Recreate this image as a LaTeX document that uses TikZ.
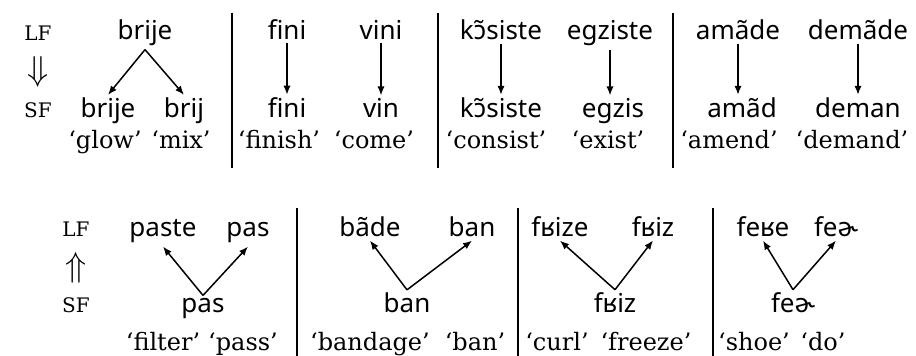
\documentclass[tikz,border=0pt]{standalone}
\usepackage{fontspec}
\setmainfont{DejaVu Serif}
\newfontfamily\ipafont{Noto Sans}
\usetikzlibrary{arrows.meta}

\begin{document}
\begin{tikzpicture}[x=0.5pt,y=-0.5pt,
    form/.style={anchor=base,inner sep=1.5pt,font=\ipafont\fontsize{13}{15}\selectfont},
    gloss/.style={anchor=base,inner sep=0pt,font=\fontsize{12}{14}\selectfont},
    level/.style={anchor=base,inner sep=0pt,font=\fontsize{10}{12}\selectfont},
    dirarrow/.style={inner sep=0pt,font=\fontsize{16}{18}\selectfont},
    derive/.style={-{Latex[length=4.5pt,width=3.6pt]},line width=0.75pt},
    divider/.style={line width=1.2pt}]
\useasboundingbox (0,0) rectangle (916,356);

% dividers
\foreach \x in {232, 438, 673}
    \draw[divider] (\x,13) -- (\x,168);
\foreach \x in {297, 518, 713}
    \draw[divider] (\x,208) -- (\x,356);

% top row: LF => SF
\node[level] (lfA) at (38,41) {LF};
\node[dirarrow] (dirA) at (38,72) {$\Downarrow$};
\node[level] (sfA) at (38,118) {SF};

\node[form] (brijeLF) at (145,40) {brije};
\node[form] (brijeSF) at (108,118) {brije};
\node[form] (brijSF) at (184,118) {brij};
\node[form] (finiLF) at (287,40) {fini};
\node[form] (finiSF) at (287,118) {fini};
\node[form] (viniLF) at (381,40) {vini};
\node[form] (vinSF) at (381,118) {vin};
\node[form] (kosisteLF) at (501,40) {kɔ̃siste};
\node[form] (kosisteSF) at (501,118) {kɔ̃siste};
\node[form] (egzisteLF) at (610,40) {egziste};
\node[form] (egzisSF) at (613,118) {egzis};
\node[form] (amadeLF) at (738,40) {amãde};
\node[form] (amadSF) at (742,118) {amãd};
\node[form] (demadeLF) at (858,40) {demãde};
\node[form] (demanSF) at (858,118) {deman};

\node[gloss] (glowG) at (105,149) {`glow'};
\node[gloss] (mixG) at (181,149) {`mix'};
\node[gloss] (finishG) at (279,149) {`finish'};
\node[gloss] (comeG) at (374,149) {`come'};
\node[gloss] (consistG) at (496,149) {`consist'};
\node[gloss] (existG) at (608,149) {`exist'};
\node[gloss] (amendG) at (729,149) {`amend'};
\node[gloss] (demandG) at (852,149) {`demand'};

\draw[derive] (brijeLF.south) -- (brijeSF.north);
\draw[derive] (brijeLF.south) -- (brijSF.north);
\draw[derive] (finiLF.south) -- (finiLF.south |- finiSF.north);
\draw[derive] (viniLF.south) -- (viniLF.south |- vinSF.north);
\draw[derive] (kosisteLF.south) -- (kosisteLF.south |- kosisteSF.north);
\draw[derive] (egzisteLF.south) -- (egzisteLF.south |- egzisSF.north);
\draw[derive] (amadeLF.south) -- (amadeLF.south |- amadSF.north);
\draw[derive] (demadeLF.south) -- (demadeLF.south |- demanSF.north);

% bottom row: SF => LF
\node[level] (lfB) at (76,237) {LF};
\node[dirarrow] (dirB) at (76,268) {$\Uparrow$};
\node[level] (sfB) at (76,313) {SF};

\node[form] (pasteLF) at (163,237) {paste};
\node[form] (pasLF) at (248,237) {pas};
\node[form] (pasSF) at (203,313) {pas};
\node[form] (badeLF) at (370,237) {bãde};
\node[form] (banLF) at (472,237) {ban};
\node[form] (banSF) at (407,313) {ban};
\node[form] (frizeLF) at (560,237) {fʁize};
\node[form] (frizLF) at (653,237) {fʁiz};
\node[form] (frizSF) at (615,313) {fʁiz};
\node[form] (fereLF) at (763,237) {feʁe};
\node[form] (ferLF) at (836,237) {feɚ};
\node[form] (ferSF) at (793,313) {feɚ};

\node[gloss] (filterG) at (163,351) {`filter'};
\node[gloss] (passG) at (243,351) {`pass'};
\node[gloss] (bandageG) at (370,351) {`bandage'};
\node[gloss] (banG) at (475,351) {`ban'};
\node[gloss] (curlG) at (557,351) {`curl'};
\node[gloss] (freezeG) at (646,351) {`freeze'};
\node[gloss] (shoeG) at (754,351) {`shoe'};
\node[gloss] (doG) at (823,351) {`do'};

\draw[derive] (pasSF.north) -- (pasteLF.south);
\draw[derive] (pasSF.north) -- (pasLF.south);
\draw[derive] (banSF.north) -- (badeLF.south);
\draw[derive] (banSF.north) -- (banLF.south);
\draw[derive] (frizSF.north) -- (frizeLF.south);
\draw[derive] (frizSF.north) -- (frizLF.south);
\draw[derive] (ferSF.north) -- (fereLF.south);
\draw[derive] (ferSF.north) -- (ferLF.south);
\end{tikzpicture}
\end{document}
